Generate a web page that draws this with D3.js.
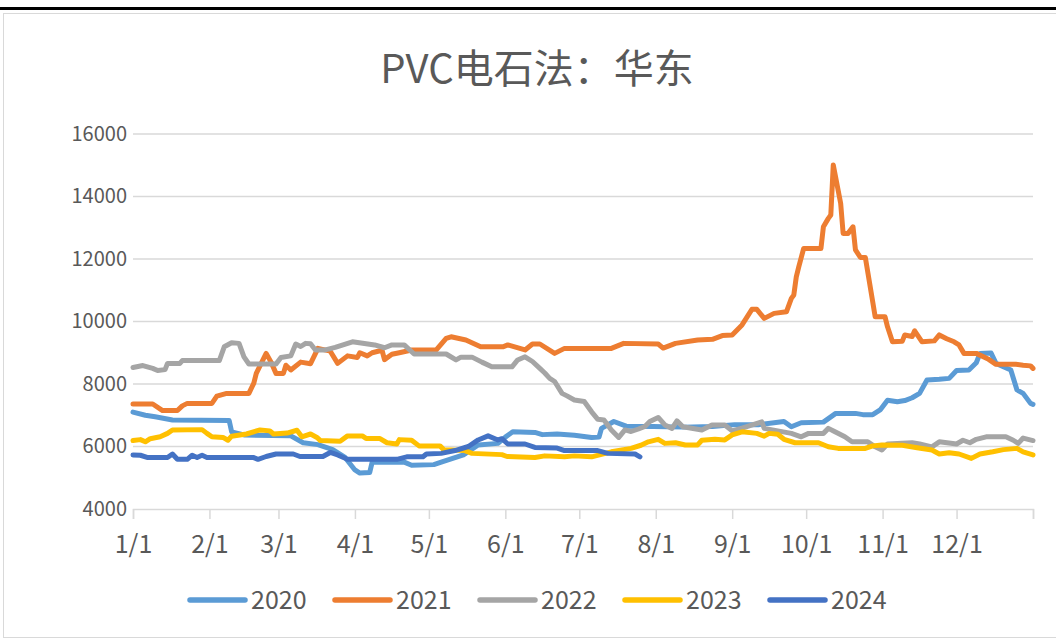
<!DOCTYPE html>
<html>
<head>
<meta charset="utf-8">
<script src="https://cdn.jsdelivr.net/npm/d3@7"></script>
<style>
  body { margin: 0; background: #fff; }
  svg { display: block; font-family: "Noto Sans CJK SC", "Open Sans", sans-serif; }
</style>
</head>
<body>
<div class="chart"></div>
<script>
// Data: [day of year, price] pairs
var s2020 = [[0,7100],[5,7000],[9,6950],[16,6850],[39,6830],[40,6470],[45,6370],[64,6340],[69,6120],[75,6060],[81,5900],[86,5650],[90,5250],[92,5150],[96,5170],[97,5500],[110,5500],[113,5400],[122,5420],[125,5500],[134,5730],[140,6050],[148,6100],[151,6300],[154,6470],[163,6450],[166,6380],[172,6400],[179,6360],[186,6290],[189,6300],[190,6580],[195,6800],[200,6650],[211,6640],[223,6620],[235,6640],[244,6700],[254,6700],[264,6800],[267,6630],[271,6760],[280,6780],[285,7060],[293,7060],[296,7020],[300,7020],[303,7170],[306,7480],[310,7430],[313,7470],[316,7560],[319,7700],[322,8130],[327,8150],[331,8180],[334,8430],[339,8450],[342,8680],[343.5,8980],[348,8990],[350,8660],[356,8450],[358.5,7810],[361,7700],[364,7380],[365,7350]];

var s2021 = [[0,7360],[8,7360],[12,7150],[18,7150],[20,7300],[22,7380],[32,7380],[34,7610],[38,7700],[47,7700],[49,8030],[50,8340],[54,8980],[56,8700],[58,8340],[61,8340],[62,8600],[64,8450],[68,8700],[72,8650],[75,9140],[80,9050],[83,8660],[87,8900],[91,8850],[92,9000],[95,8900],[97,9000],[101,9080],[102,8780],[105,8950],[108,9000],[113,9090],[123,9090],[127,9460],[129,9510],[135,9410],[141,9190],[150,9190],[152,9250],[159,9090],[162,9280],[165,9280],[171,8980],[175,9140],[194,9140],[199,9300],[213,9280],[215,9150],[220,9300],[229,9410],[235,9430],[239,9550],[243,9570],[247,9890],[251,10390],[253,10390],[256,10100],[260,10260],[265,10310],[267,10740],[268,10850],[269,11430],[270,11750],[272,12340],[279,12340],[280,13030],[282,13300],[283,13410],[284,15010],[287,13780],[288,12820],[290,12820],[292,13030],[293,12290],[295,12050],[297,12050],[300,10630],[301,10150],[305,10150],[306,9830],[308,9350],[312,9370],[313,9570],[316,9520],[317,9700],[320,9350],[325,9380],[327,9570],[330,9450],[333,9350],[335,9250],[337,8980],[342,8980],[347,8790],[350,8630],[358,8630],[361,8600],[364,8580],[365,8500]];

var s2022 = [[0,8530],[4,8590],[8,8500],[10,8430],[13,8460],[14,8660],[19,8660],[20,8750],[35,8750],[37,9190],[40,9320],[43,9300],[45,8870],[47,8640],[58,8640],[60,8850],[64,8900],[66,9280],[68,9200],[70,9300],[72,9290],[74,9090],[78,9090],[82,9170],[89,9350],[98,9250],[102,9160],[105,9250],[110,9250],[114,8960],[127,8960],[131,8770],[133,8860],[137.5,8860],[141.5,8700],[145.5,8550],[153.7,8550],[156,8770],[159,8870],[162,8720],[165,8500],[167,8350],[169,8180],[171,8080],[174,7700],[176,7620],[179,7490],[183,7440],[186,7110],[188.5,6870],[191,6850],[194,6530],[197,6290],[199.5,6530],[202,6480],[205,6560],[207.6,6640],[209.6,6800],[213,6930],[215.7,6690],[218.6,6580],[220.6,6820],[223,6630],[230.7,6530],[234.8,6690],[240,6690],[243,6500],[247,6590],[255,6790],[256,6580],[261.5,6500],[267,6420],[271,6310],[274,6420],[280,6420],[282,6580],[284.7,6470],[288.7,6310],[291.6,6150],[298,6150],[301,5990],[303.7,5890],[306,6080],[316,6120],[319,6080],[324,5990],[327,6150],[334,6080],[336.6,6200],[339.4,6120],[342,6230],[346,6310],[354,6310],[357,6200],[359,6100],[361,6270],[365,6190]];

var s2023 = [[0,6190],[3,6220],[5,6150],[7,6250],[11,6310],[14,6420],[16,6530],[28,6540],[30,6420],[32,6310],[36.5,6290],[38.5,6200],[40,6330],[46,6400],[51.5,6530],[55.5,6500],[57,6400],[62.5,6430],[66.5,6520],[68.5,6310],[72,6400],[74.6,6290],[76,6190],[84,6170],[87,6340],[93,6340],[94.5,6260],[100,6260],[103,6120],[107,6080],[108,6220],[113,6200],[116,6020],[124.5,6020],[126,5900],[134.6,5870],[137.5,5780],[149.6,5740],[151.7,5680],[163,5650],[167,5700],[175,5670],[179,5700],[186,5670],[194,5830],[202,5940],[206,6040],[209,6150],[213,6230],[215.7,6100],[220,6120],[224,6050],[229,6050],[230.7,6200],[236,6230],[240,6210],[243,6370],[247,6470],[253,6420],[256,6330],[258,6420],[261.5,6390],[264,6230],[268.5,6120],[278,6120],[282,5990],[286,5940],[297,5940],[300,6020],[303.7,6050],[312,6040],[318,5960],[324,5890],[327,5760],[331,5800],[335,5760],[340,5620],[343.5,5760],[348.7,5830],[353,5900],[358.5,5940],[361,5830],[365,5730]];

var s2024 = [[0,5730],[3,5720],[5.7,5650],[14,5650],[16,5760],[18,5590],[22,5590],[24,5720],[26,5650],[28,5720],[30,5650],[48.7,5650],[50.7,5590],[54,5680],[58,5760],[65,5760],[67.7,5680],[77,5680],[80,5810],[83,5730],[87,5590],[107,5590],[111,5670],[117.6,5670],[119,5760],[125,5780],[130.6,5870],[136,6000],[140,6210],[144,6340],[148,6210],[149.6,6250],[152,6080],[159,6080],[163,5970],[172,5950],[175,5870],[188.5,5870],[192.6,5780],[203.6,5760],[205.6,5670]];

var seriesNames = ["2020", "2021", "2022", "2023", "2024"];
var seriesData = [s2020, s2021, s2022, s2023, s2024];
var seriesColors = ["#5b9bd5", "#ed7d31", "#a5a5a5", "#ffc000", "#4472c4"];

var monthDays = [0, 31, 59, 90, 120, 151, 181, 212, 243, 273, 304, 334, 365];
var monthLabels = ["1/1", "2/1", "3/1", "4/1", "5/1", "6/1", "7/1", "8/1", "9/1", "10/1", "11/1", "12/1", ""];
var yTicks = [4000, 6000, 8000, 10000, 12000, 14000, 16000];

// Set the variables for height and width
var svgWidth = 1056;
var svgHeight = 639;

var margin = { top: 134, right: 23, bottom: 130, left: 133 };
var width = svgWidth - margin.left - margin.right;
var height = svgHeight - margin.top - margin.bottom;

var svg = d3.select(".chart")
    .append("svg")
    .attr("width", svgWidth)
    .attr("height", svgHeight);

// frame: black rule at top and light border around the chart
svg.append("rect")
    .attr("x", 0).attr("y", 7)
    .attr("width", svgWidth).attr("height", 3)
    .attr("fill", "#000");

svg.append("rect")
    .attr("x", 3.5).attr("y", 13.5)
    .attr("width", svgWidth).attr("height", 624)
    .attr("fill", "none")
    .attr("stroke", "#d9d9d9")
    .attr("stroke-width", 1);

// title
svg.append("text")
    .attr("x", 537)
    .attr("y", 83)
    .attr("text-anchor", "middle")
    .attr("fill", "#595959")
    .attr("font-size", "40px")
    .text("PVC电石法：华东");

var chartGroup = svg.append("g")
    .attr("transform", `translate(${margin.left}, ${margin.top})`);

// Scale functions
var xScale = d3.scaleLinear()
    .domain([0, 365])
    .range([0, width]);

var yScale = d3.scaleLinear()
    .domain([4000, 16000])
    .range([height, 0]);

// gridlines
chartGroup.append("g")
    .selectAll("line")
    .data(yTicks.slice(1))
    .enter()
    .append("line")
    .attr("x1", 0)
    .attr("x2", width)
    .attr("y1", d => yScale(d))
    .attr("y2", d => yScale(d))
    .attr("stroke", "#d9d9d9")
    .attr("stroke-width", 1.5);

// Axes
var bottomAxis = d3.axisBottom(xScale)
    .tickValues(monthDays)
    .tickFormat((d, i) => monthLabels[i])
    .tickSize(10)
    .tickPadding(16);

var leftAxis = d3.axisLeft(yScale)
    .tickValues(yTicks)
    .tickFormat(d3.format("d"))
    .tickSize(0)
    .tickPadding(6);

var xAxisG = chartGroup.append("g")
    .attr("transform", `translate(0, ${height})`)
    .call(bottomAxis);

xAxisG.select(".domain").attr("stroke", "#d9d9d9").attr("stroke-width", 1.5);
xAxisG.selectAll(".tick line").attr("stroke", "#d9d9d9").attr("stroke-width", 1.5);
xAxisG.selectAll(".tick text")
    .attr("fill", "#595959")
    .attr("font-size", "25px")
    .attr("font-family", "Noto Sans CJK SC, sans-serif");

var yAxisG = chartGroup.append("g").call(leftAxis);
yAxisG.select(".domain").remove();
yAxisG.selectAll(".tick text")
    .attr("fill", "#595959")
    .attr("font-size", "20px")
    .attr("font-family", "Noto Sans CJK SC, sans-serif");

// lines
var line = d3.line()
    .x(d => xScale(d[0]))
    .y(d => yScale(d[1]));

chartGroup.selectAll(".series")
    .data(seriesData)
    .enter()
    .append("path")
    .attr("class", "series")
    .attr("d", d => line(d))
    .attr("fill", "none")
    .attr("stroke", (d, i) => seriesColors[i])
    .attr("stroke-width", 5)
    .attr("stroke-linejoin", "round")
    .attr("stroke-linecap", "round");

// legend
var legend = svg.append("g")
    .attr("transform", "translate(190, 600)");

var items = legend.selectAll("g")
    .data(seriesNames)
    .enter()
    .append("g")
    .attr("transform", (d, i) => `translate(${i * 145}, 0)`);

items.append("line")
    .attr("x1", 0).attr("x2", 55)
    .attr("y1", 0).attr("y2", 0)
    .attr("stroke", (d, i) => seriesColors[i])
    .attr("stroke-width", 5.5)
    .attr("stroke-linecap", "round");

items.append("text")
    .attr("x", 61)
    .attr("y", 0)
    .attr("dy", "0.35em")
    .attr("fill", "#595959")
    .attr("font-size", "25px")
    .text(d => d);
</script>
</body>
</html>
